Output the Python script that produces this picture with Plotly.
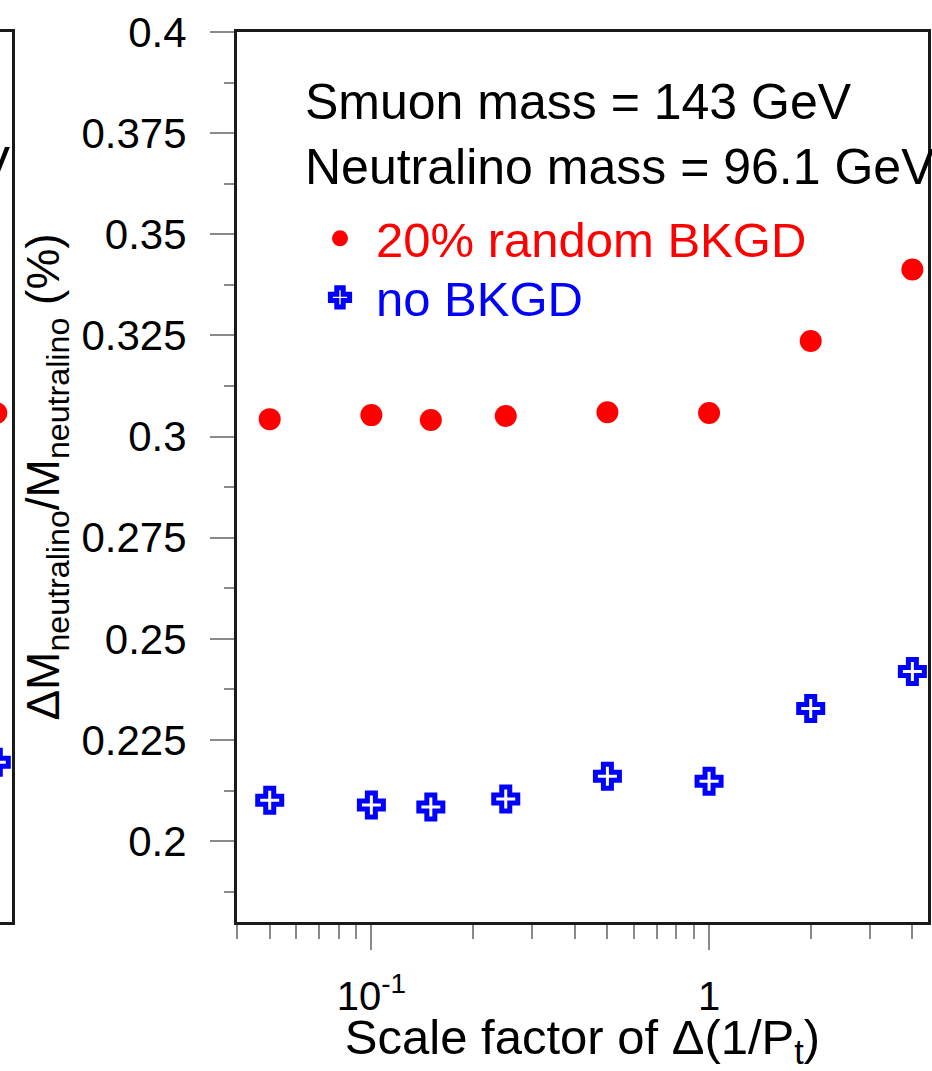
import math
import plotly.graph_objects as go

# ---- data ----
scale_factor = [0.05, 0.1, 0.15, 0.25, 0.5, 1.0, 2.0, 4.0]
res_bkgd20 = [0.3043, 0.3053, 0.3041, 0.3051, 0.3060, 0.3058, 0.3236, 0.3413]
res_nobkgd = [0.2101, 0.2089, 0.2084, 0.2104, 0.2160, 0.2148, 0.2328, 0.2419]

# partially visible neighbouring panel (only its last points show)
left_x = [4.0]
left_bkgd20 = [0.3058]
left_nobkgd = [0.2195]

x_major = [0.1, 1]
x_major_text = ["10<sup>-1</sup>", "1"]
x_minor = [0.04, 0.05, 0.06, 0.07, 0.08, 0.09, 0.2, 0.3, 0.4, 0.5, 0.6, 0.7, 0.8, 0.9, 2, 3, 4]

W, H = 932, 1071
FONT = "Liberation Sans, Arial, Helvetica, sans-serif"
RED = "#ff0000"
BLUE = "#0000ff"
FRAME = "#1a1a1a"
TICK = "#8a8a8a"

x_lo, x_hi = 0.04, 4.45
y_lo, y_hi = 0.18, 0.40

def px_x(p):
    return p / W

def px_y(p):
    return 1 - p / H

red_marker = dict(symbol="circle", size=22, color=RED)
blue_marker = dict(symbol="cross", size=20, color="white", line=dict(color=BLUE, width=5))

fig = go.Figure()

fig.add_trace(go.Scatter(
    x=scale_factor, y=res_bkgd20, mode="markers",
    name='<span style="color:#ff0000">20% random BKGD</span>',
    marker=red_marker, xaxis="x", yaxis="y", legend="legend"))
fig.add_trace(go.Scatter(
    x=scale_factor, y=res_nobkgd, mode="markers",
    name='<span style="color:#0000ff">no BKGD</span>',
    marker=blue_marker, xaxis="x", yaxis="y", legend="legend2"))

# neighbouring panel fragment
fig.add_trace(go.Scatter(
    x=left_x, y=left_bkgd20, mode="markers", showlegend=False,
    marker=red_marker, xaxis="x2", yaxis="y2"))
fig.add_trace(go.Scatter(
    x=left_x, y=left_nobkgd, mode="markers", showlegend=False,
    marker=blue_marker, xaxis="x2", yaxis="y2"))

ydom = [px_y(922), px_y(32)]
decade_px = 339.0

legend_common = dict(xanchor="left", yanchor="top",
                     font=dict(size=49, family=FONT), itemwidth=62,
                     bgcolor="rgba(0,0,0,0)", borderwidth=0,
                     itemsizing="trace")

fig.update_layout(
    width=W, height=H,
    margin=dict(l=0, r=0, t=0, b=0, autoexpand=False),
    paper_bgcolor="white", plot_bgcolor="white",
    font=dict(family=FONT, color="black"),
    showlegend=True,
    legend=dict(x=px_x(304), y=px_y(200), **legend_common),
    legend2=dict(x=px_x(304), y=px_y(259), **legend_common),
    xaxis=dict(
        domain=[px_x(237), px_x(928)], type="log",
        range=[math.log10(x_lo), math.log10(x_hi)],
        showgrid=False, zeroline=False, automargin=False,
        showline=True, linewidth=3, linecolor=FRAME, mirror=True,
        tickmode="array", tickvals=x_major, ticktext=x_major_text,
        ticks="outside", ticklen=25, tickwidth=2, tickcolor=TICK,
        ticklabelstandoff=12,
        tickfont=dict(size=40, family=FONT, color="black"),
        minor=dict(tickmode="array", tickvals=x_minor, ticks="outside",
                   ticklen=14, tickwidth=2, tickcolor=TICK, showgrid=False),
        title=dict(text="Scale factor of Δ(1/P<sub>t</sub>)",
                   font=dict(size=49, family=FONT, color="black"), standoff=5),
        anchor="y",
    ),
    yaxis=dict(
        domain=ydom, range=[y_lo, y_hi],
        showgrid=False, zeroline=False, automargin=False,
        showline=True, linewidth=3, linecolor=FRAME, mirror=True,
        tick0=0.2, dtick=0.025, tickformat="~g",
        ticks="outside", ticklen=24, tickwidth=2, tickcolor=TICK,
        ticklabelstandoff=15,
        tickfont=dict(size=42, family=FONT, color="black"),
        minor=dict(dtick=0.0125, ticks="outside", ticklen=10, tickwidth=2,
                   tickcolor=TICK, showgrid=False),
        title=dict(text="ΔM<sub>neutralino</sub>/M<sub>neutralino</sub> (%)",
                   font=dict(size=46, family=FONT, color="black"), standoff=8),
        anchor="x",
    ),
    xaxis2=dict(
        domain=[0, px_x(12)], type="log",
        range=[math.log10(x_hi) - 12 / decade_px, math.log10(x_hi)],
        showgrid=False, zeroline=False, showticklabels=False, ticks="",
        showline=True, linewidth=3, linecolor=FRAME, mirror=True,
        automargin=False, anchor="y2",
    ),
    yaxis2=dict(
        domain=ydom, range=[y_lo, y_hi], side="right",
        showgrid=False, zeroline=False, showticklabels=False, ticks="",
        showline=True, linewidth=3, linecolor=FRAME, mirror=False,
        automargin=False, anchor="x2",
    ),
)

fig.add_annotation(
    xref="paper", yref="paper", x=px_x(303), y=px_y(72),
    xanchor="left", yanchor="top", align="left", showarrow=False,
    text="Smuon mass = 143 GeV<br>Neutralino mass = 96.1 GeV",
    font=dict(size=50, family=FONT, color="black"))
fig.add_annotation(
    xref="paper", yref="paper", x=px_x(13), y=px_y(135),
    xanchor="right", yanchor="top", align="right", showarrow=False,
    text="GeV", font=dict(size=50, family=FONT, color="black"))

fig.write_html(
    "out.html",
    config={"displayModeBar": False},
    post_script="document.body.style.margin='0';document.body.style.overflow='hidden';",
)
